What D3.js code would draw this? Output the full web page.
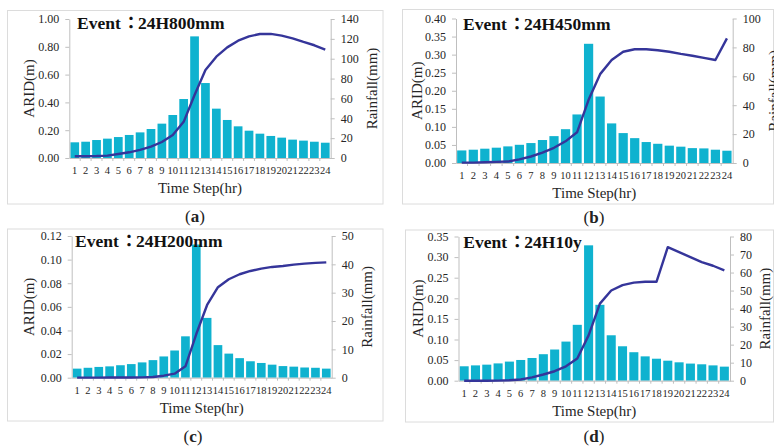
<!DOCTYPE html>
<html>
<head>
<meta charset="utf-8">
<script src="https://cdn.jsdelivr.net/npm/d3@7"></script>
<style>
  html, body { margin: 0; padding: 0; background: #ffffff; }
  svg { display: block; }
  text { font-family: "Liberation Serif", "Times New Roman", "Noto Serif CJK SC", "Noto Sans CJK SC", serif; }
</style>
</head>
<body>
<svg id="chart" width="774" height="448"></svg>
<script>
// Hourly time steps shared by all four storm events
const timeSteps = [1, 2, 3, 4, 5, 6, 7, 8, 9, 10, 11, 12, 13, 14, 15, 16, 17, 18, 19, 20, 21, 22, 23, 24];

// (a) 24H800mm
const rainA = [15.8, 16.4, 18.1, 19.5, 21.1, 23.2, 25.8, 29.2, 34.6, 43.3, 59.4, 122.5, 75.5, 49.7, 38.3, 31.9, 27.5, 24.5, 22.2, 20.5, 18.5, 17.5, 16.4, 15.4];
const aridA = [0.013, 0.013, 0.014, 0.017, 0.029, 0.041, 0.058, 0.082, 0.115, 0.165, 0.26, 0.453, 0.633, 0.729, 0.796, 0.844, 0.875, 0.892, 0.893, 0.880, 0.861, 0.835, 0.811, 0.780];

// (b) 24H450mm
const rainB = [8.7, 9.2, 9.9, 10.6, 11.5, 12.6, 13.8, 15.9, 18.6, 23.4, 33.6, 82.5, 46.0, 27.4, 20.7, 17.2, 14.5, 13.3, 12.0, 11.3, 10.3, 10.1, 9.2, 8.5];
const aridB = [0.001, 0.001, 0.002, 0.003, 0.004, 0.010, 0.018, 0.029, 0.042, 0.060, 0.085, 0.175, 0.246, 0.285, 0.308, 0.315, 0.315, 0.312, 0.308, 0.302, 0.297, 0.291, 0.285, 0.345];

// (c) 24H200mm
const rainC = [3.2, 3.5, 3.8, 4.0, 4.4, 4.8, 5.4, 6.2, 7.5, 9.6, 14.6, 47.0, 21.1, 11.5, 8.5, 6.9, 5.8, 5.2, 4.6, 4.1, 3.9, 3.6, 3.5, 3.2];
const aridC = [0.0001, 0.0001, 0.0001, 0.0002, 0.0002, 0.0002, 0.0003, 0.0006, 0.0017, 0.0034, 0.0096, 0.037, 0.0616, 0.0766, 0.0834, 0.0876, 0.0904, 0.0924, 0.0938, 0.0946, 0.0958, 0.0966, 0.0972, 0.0977];

// (d) 24H10y
const rainD = [8.0, 8.5, 8.9, 9.6, 10.6, 11.5, 12.6, 14.7, 17.3, 21.7, 31.0, 75.1, 42.1, 25.2, 19.1, 15.8, 13.5, 12.2, 11.1, 10.2, 9.5, 9.1, 8.5, 7.8];
const aridD = [0.0, 0.0, 0.0, 0.0003, 0.001, 0.003, 0.008, 0.015, 0.023, 0.035, 0.054, 0.11, 0.187, 0.219, 0.232, 0.238, 0.240, 0.240, 0.324, 0.312, 0.300, 0.288, 0.279, 0.268];

// Axis tick values
const aridTicksA = [0, 0.2, 0.4, 0.6, 0.8, 1.0];
const rainTicksA = [0, 20, 40, 60, 80, 100, 120, 140];
const aridTicksB = [0, 0.05, 0.10, 0.15, 0.20, 0.25, 0.30, 0.35, 0.40];
const rainTicksB = [0, 20, 40, 60, 80, 100];
const aridTicksC = [0, 0.02, 0.04, 0.06, 0.08, 0.10, 0.12];
const rainTicksC = [0, 10, 20, 30, 40, 50];
const aridTicksD = [0, 0.05, 0.10, 0.15, 0.20, 0.25, 0.30, 0.35];
const rainTicksD = [0, 10, 20, 30, 40, 50, 60, 70, 80];

// Text
const eventNames = ["24H800mm", "24H450mm", "24H200mm", "24H10y"];
const eventPrefix = "Event";
const fullColon = "\uFF1A";
const panelLetters = ["a", "b", "c", "d"];
const xAxisTitle = "Time Step(hr)";
const leftAxisTitle = "ARID(m)";
const rightAxisTitle = "Rainfall(mm)";

// Layout of each panel on the page
const panels = [
  { rain: rainA, arid: aridA, aridTicks: aridTicksA, rainTicks: rainTicksA,
    left: 69.3, right: 330.7, top: 19, bottom: 158,
    leftTitleX: 28.5, rightTitleX: 371.5, titleX: 77, titleY: 29,
    capX: 195, capY: 216, box: [7.5, 10.5, 383, 204] },
  { rain: rainB, arid: aridB, aridTicks: aridTicksB, rainTicks: rainTicksB,
    left: 456, right: 732.7, top: 18.5, bottom: 163,
    leftTitleX: 417, rightTitleX: 773.7, titleX: 463, titleY: 30,
    capX: 594, capY: 217, box: [402.5, 9.5, 773.5, 204] },
  { rain: rainC, arid: aridC, aridTicks: aridTicksC, rainTicks: rainTicksC,
    left: 71.7, right: 331.7, top: 236, bottom: 377.7,
    leftTitleX: 28.5, rightTitleX: 366.7, titleX: 75, titleY: 247,
    capX: 193, capY: 436, box: [7.5, 229, 383, 421] },
  { rain: rainD, arid: aridD, aridTicks: aridTicksD, rainTicks: rainTicksD,
    left: 458.5, right: 730, top: 236.5, bottom: 380.7,
    leftTitleX: 418, rightTitleX: 765, titleX: 463.3, titleY: 248,
    capX: 594, capY: 436, box: [405.5, 230, 773.5, 422] }
];

const BAR_COLOR = "#0fb2cf";
const LINE_COLOR = "#35359a";
const AXIS_COLOR = "#bfbfbf";
const LABEL_COLOR = "#262626";

const svg = d3.select("#chart");

panels.forEach((p, i) => {
  const g = svg.append("g");

  // panel frame
  g.append("rect")
    .attr("x", p.box[0]).attr("y", p.box[1])
    .attr("width", p.box[2] - p.box[0]).attr("height", p.box[3] - p.box[1])
    .attr("fill", "none").attr("stroke", "#dcdcdc").attr("stroke-width", 1);

  const x = d3.scaleBand().domain(timeSteps).range([p.left, p.right]).paddingInner(0.2).paddingOuter(0.1);
  const yL = d3.scaleLinear().domain([0, d3.max(p.aridTicks)]).range([p.bottom, p.top]);
  const yR = d3.scaleLinear().domain([0, d3.max(p.rainTicks)]).range([p.bottom, p.top]);

  // rainfall bars
  g.append("g").selectAll("rect")
    .data(p.rain)
    .join("rect")
    .attr("x", (d, k) => x(timeSteps[k]))
    .attr("width", x.bandwidth())
    .attr("y", d => yR(d))
    .attr("height", d => yR(0) - yR(d))
    .attr("fill", BAR_COLOR);

  // left axis (ARID)
  const axL = g.append("g")
    .attr("transform", `translate(${p.left},0)`)
    .call(d3.axisLeft(yL).tickValues(p.aridTicks).tickFormat(d3.format(".2f")).tickSize(4).tickSizeOuter(0).tickPadding(6));
  // right axis (rainfall)
  const axR = g.append("g")
    .attr("transform", `translate(${p.right},0)`)
    .call(d3.axisRight(yR).tickValues(p.rainTicks).tickFormat(d3.format("d")).tickSize(4).tickSizeOuter(0).tickPadding(6));
  // bottom axis (time step)
  const axB = g.append("g")
    .attr("transform", `translate(0,${p.bottom})`)
    .call(d3.axisBottom(x).tickSize(0).tickPadding(9));

  [axL, axR, axB].forEach(ax => {
    ax.selectAll(".domain").attr("stroke", AXIS_COLOR).attr("stroke-width", 1);
    ax.selectAll(".tick line").attr("stroke", AXIS_COLOR);
    ax.selectAll("text").attr("fill", LABEL_COLOR)
      .style("font-family", "'Liberation Serif', 'Times New Roman', serif");
  });
  axL.selectAll("text").attr("font-size", 12);
  axR.selectAll("text").attr("font-size", 12);
  axB.selectAll("text").attr("font-size", 10.5);

  // small separators between categories on the time axis
  g.append("g").selectAll("line")
    .data(timeSteps.slice(1))
    .join("line")
    .attr("x1", d => x(d) - x.step() * x.paddingInner() / 2)
    .attr("x2", d => x(d) - x.step() * x.paddingInner() / 2)
    .attr("y1", p.bottom).attr("y2", p.bottom + 3)
    .attr("stroke", AXIS_COLOR);

  // ARID line
  const line = d3.line()
    .x((d, k) => x(timeSteps[k]) + x.bandwidth() / 2)
    .y(d => yL(d));
  g.append("path")
    .datum(p.arid)
    .attr("d", line)
    .attr("fill", "none")
    .attr("stroke", LINE_COLOR)
    .attr("stroke-width", 2.4)
    .attr("stroke-linejoin", "round");

  // event title: "Event", full-width colon (centred form), event name
  const title = g.append("g").attr("font-size", 17.5).attr("font-weight", "bold").attr("fill", "#111");
  title.append("text").attr("x", p.titleX).attr("y", p.titleY).text(eventPrefix);
  title.append("text").attr("x", p.titleX + 54).attr("y", p.titleY)
    .attr("text-anchor", "middle")
    .style("font-family", "'Noto Sans CJK TC', 'Noto Sans CJK KR', sans-serif")
    .text(fullColon);
  title.append("text").attr("x", p.titleX + 61).attr("y", p.titleY).text(eventNames[i]);

  // axis titles
  g.append("text")
    .attr("x", (p.left + p.right) / 2).attr("y", p.bottom + 35)
    .attr("text-anchor", "middle").attr("font-size", 15).attr("fill", LABEL_COLOR)
    .text(xAxisTitle);
  g.append("text")
    .attr("transform", `translate(${p.leftTitleX},${(p.top + p.bottom) / 2}) rotate(-90)`)
    .attr("text-anchor", "middle").attr("dominant-baseline", "central")
    .attr("font-size", 15).attr("fill", LABEL_COLOR)
    .text(leftAxisTitle);
  g.append("text")
    .attr("transform", `translate(${p.rightTitleX},${(p.top + p.bottom) / 2}) rotate(-90)`)
    .attr("text-anchor", "middle").attr("dominant-baseline", "central")
    .attr("font-size", 15).attr("fill", LABEL_COLOR)
    .text(rightAxisTitle);

  // panel caption
  const cap = svg.append("text")
    .attr("x", p.capX).attr("y", p.capY)
    .attr("text-anchor", "middle").attr("dominant-baseline", "central")
    .attr("font-size", 17).attr("fill", "#222");
  cap.append("tspan").text("(");
  cap.append("tspan").attr("font-weight", "bold").text(panelLetters[i]);
  cap.append("tspan").text(")");
});
</script>
</body>
</html>
